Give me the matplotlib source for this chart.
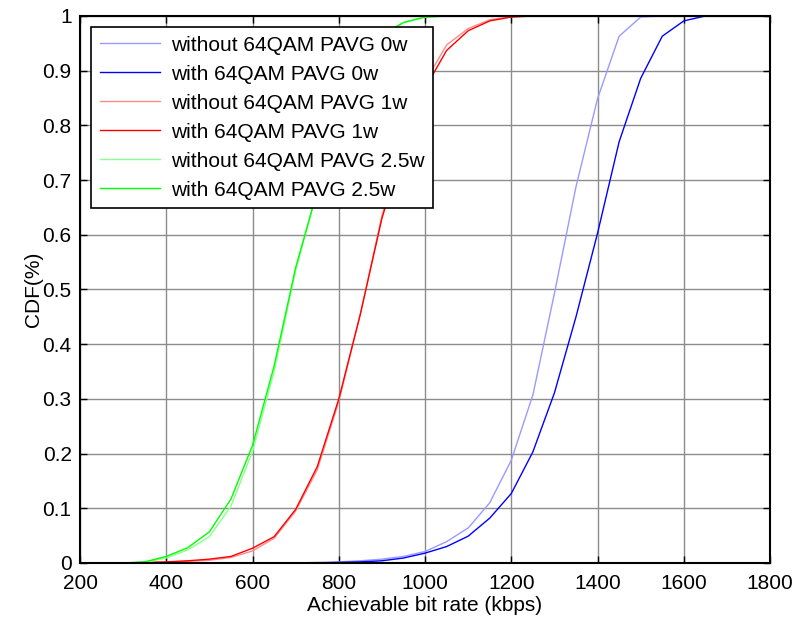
import numpy as np
import matplotlib
matplotlib.use("Agg")
import matplotlib.pyplot as plt

nan = np.nan

# achievable bit rate grid (kbps)
rate = [200, 250, 300, 350, 400, 450, 500, 550, 600, 650, 700, 750, 800, 850,
        900, 950, 1000, 1050, 1100, 1150, 1200, 1250, 1300, 1350, 1400, 1450,
        1500, 1550, 1600, 1650, 1700, 1750, 1800]

# CDF per configuration, nan where the series has no samples
cdf_wo_0w = [nan, nan, nan, nan, nan, nan, nan, nan, 0.0, 0.0, 0.0, 0.001, 0.002,
             0.004, 0.007, 0.012, 0.021, 0.039, 0.064, 0.11, 0.188, 0.307, 0.493,
             0.688, 0.849, 0.963, 0.998, 1.0, 1.0, 1.0, 1.0, 1.0, nan]
cdf_w_0w = [nan, nan, nan, nan, nan, nan, nan, nan, 0.0, 0.0, 0.0, 0.0, 0.001,
            0.002, 0.004, 0.009, 0.018, 0.030, 0.049, 0.082, 0.127, 0.203, 0.311,
            0.45, 0.603, 0.77, 0.886, 0.963, 0.991, 1.0, 1.0, 1.0, nan]
cdf_wo_1w = [0.0, 0.0, 0.0, 0.001, 0.001, 0.003, 0.005, 0.010, 0.022, 0.045, 0.095,
             0.17, 0.295, 0.455, 0.635, 0.77, 0.88, 0.947, 0.977, 0.993, 0.999,
             1.0, 1.0, 1.0, nan, nan, nan, nan, nan, nan, nan, nan, nan]
cdf_w_1w = [0.0, 0.0, 0.0, 0.001, 0.002, 0.004, 0.007, 0.012, 0.027, 0.048, 0.098,
            0.176, 0.30, 0.455, 0.63, 0.76, 0.868, 0.937, 0.973, 0.991, 0.998,
            1.0, 1.0, 1.0, nan, nan, nan, nan, nan, nan, nan, nan, nan]
cdf_wo_25w = [0.0, 0.0, 0.0, 0.001, 0.009, 0.024, 0.048, 0.104, 0.204, 0.35, 0.535,
              0.68, 0.82, 0.92, 0.965, 0.988, 0.998, 1.0, 1.0, 1.0, 1.0, 1.0, 1.0,
              nan, nan, nan, nan, nan, nan, nan, nan, nan, nan]
cdf_w_25w = [0.0, 0.0, 0.0, 0.002, 0.012, 0.028, 0.057, 0.117, 0.215, 0.36, 0.54,
             0.68, 0.82, 0.92, 0.965, 0.988, 0.998, 1.0, 1.0, 1.0, 1.0, 1.0, 1.0,
             nan, nan, nan, nan, nan, nan, nan, nan, nan, nan]

series = [
    ("without 64QAM PAVG 0w", cdf_wo_0w, "#9a9aff"),
    ("with 64QAM PAVG 0w", cdf_w_0w, "#0000ff"),
    ("without 64QAM PAVG 1w", cdf_wo_1w, "#ff8a8a"),
    ("with 64QAM PAVG 1w", cdf_w_1w, "#ff0000"),
    ("without 64QAM PAVG 2.5w", cdf_wo_25w, "#8cff8c"),
    ("with 64QAM PAVG 2.5w", cdf_w_25w, "#00ff00"),
]

plt.rcParams["font.family"] = ["Liberation Sans", "DejaVu Sans"]
fs = 15

fig = plt.figure(figsize=(7.98, 6.24), dpi=100)
ax = fig.add_axes([0.1003, 0.0978, 0.8647, 0.8766])

for label, values, color in series:
    ax.plot(rate, values, color=color, linewidth=1.0, label=label)

ax.set_xlim(200, 1800)
ax.set_ylim(0, 1)
ax.set_xticks(np.arange(200, 1801, 200))
ax.set_yticks(np.arange(0, 1.01, 0.1))
ax.set_yticklabels(["0", "0.1", "0.2", "0.3", "0.4", "0.5", "0.6", "0.7", "0.8", "0.9", "1"])
ax.grid(True, color="#8c8c8c", linewidth=1.0)
ax.set_axisbelow(True)

ax.tick_params(direction="in", top=True, right=True, length=5, width=1,
               labelsize=fs)
ax.tick_params(axis="x", pad=8)
ax.tick_params(axis="y", pad=6)
for spine in ax.spines.values():
    spine.set_linewidth(1.5)

ax.set_xlabel("Achievable bit rate (kbps)", fontsize=fs, labelpad=2)
ax.set_ylabel("CDF(%)", fontsize=fs, labelpad=0)

leg = ax.legend(loc="upper left", bbox_to_anchor=(0.016, 0.98), borderaxespad=0,
                fontsize=fs, fancybox=False, framealpha=1, edgecolor="black",
                handlelength=2.9, handletextpad=0.5, labelspacing=0.48, borderpad=0.42)
leg.get_frame().set_linewidth(1.2)

fig.savefig("out.png", dpi=100)
